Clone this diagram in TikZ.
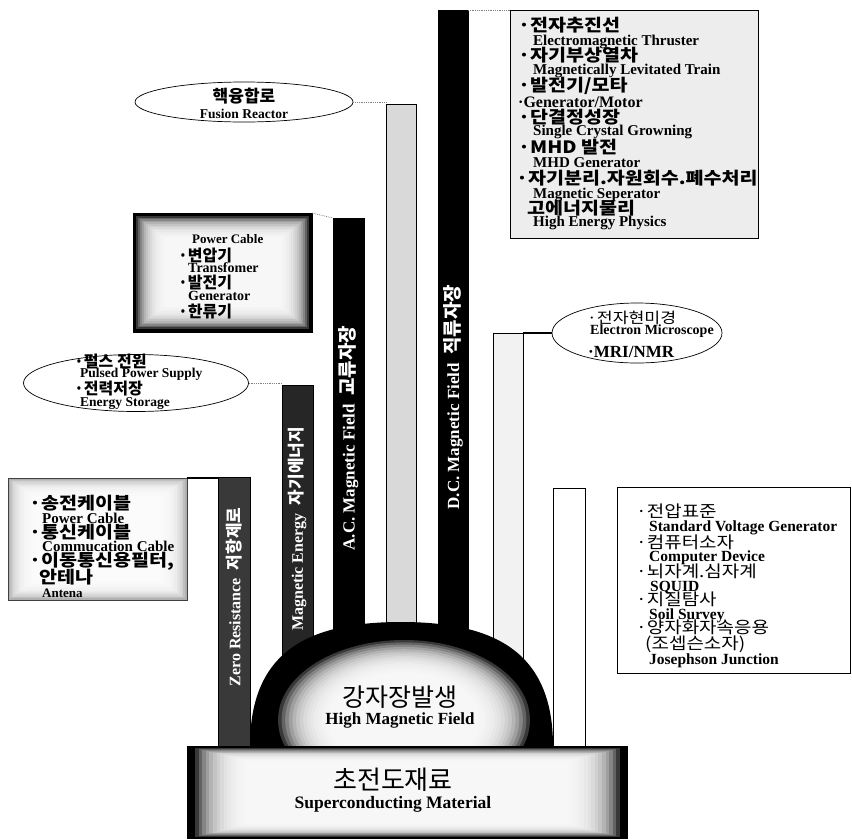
\documentclass[tikz,border=0pt]{standalone}
\usepackage{fontspec}
\usepackage{graphicx}
\setmainfont{Liberation Serif}
\newfontfamily\kr{Noto Sans CJK KR}
\newfontfamily\krw{Noto Sans CJK KR}[FakeStretch=1.15]
\usetikzlibrary{shapes.geometric}
% glow box: x1 y1 x2 y2 offx offy stepx stepy basecolor
\newcommand\glowbox[9]{%
  \fill[#9] (#1,#2) rectangle (#3,#4);
  \foreach \i in {0,...,14}{%
    \fill[white,opacity=0.22] ({#1+#5+\i*#7},{#2+#6+\i*#8}) rectangle ({#3-#5-\i*#7},{#4-#6-\i*#8});}%
}
\tikzset{
  kt/.style={anchor=west,inner sep=0pt,font=\krw\bfseries\fontsize{#1}{#1}\selectfont},
  kt/.default=17,
  kb/.style={anchor=west,inner sep=0pt,font=\kr\bfseries\fontsize{#1}{#1}\selectfont},
  kb/.default=16,
  kn/.style={anchor=west,inner sep=0pt,font=\krw\fontsize{#1}{#1}\selectfont},
  kn/.default=16.5,
  kc/.style={anchor=center,inner sep=0pt,font=\kr\fontsize{#1}{#1}\selectfont},
  et/.style={anchor=west,inner sep=0pt,font=\bfseries\fontsize{#1}{#1}\selectfont},
  et/.default=15,
  bar/.style={anchor=north west,inner sep=0pt,outer sep=0pt,draw=black,line width=0.5pt},
  rot/.style={rotate=90,inner sep=0pt,text=white},
  dotc/.style={gray,densely dotted,line width=0.8pt},
  thickc/.style={black,line width=2pt},
  oval/.style={ellipse,draw=black,line width=0.7pt,fill=white,inner sep=0pt}
}
\begin{document}
\begin{tikzpicture}[x=1pt,y=-1pt]
\useasboundingbox (0,0) rectangle (852,839);

% ---------- bars ----------
\node[bar,fill=gray!45!black,minimum width=32pt,minimum height=270pt] (bz) at (218,477) {};
\node[bar,fill=black!85,minimum width=31pt,minimum height=361pt] (bm) at (282,385) {};
\node[bar,fill=black,minimum width=31pt,minimum height=528pt] (bac) at (333,218) {};
\node[bar,fill=gray!30,minimum width=30pt,minimum height=642pt] (bg) at (386,104) {};
\node[bar,fill=black,minimum width=30pt,minimum height=736pt] (bdc) at (438,10) {};
\node[bar,fill=gray!10,minimum width=30pt,minimum height=413pt] (bl) at (493,333) {};
\node[bar,fill=white,minimum width=32pt,minimum height=259pt] (bw) at (553,488) {};

% ---------- dome ----------
\fill[black] (250,746) .. controls (250,650) and (310,622) .. (401,622)
  .. controls (492,622) and (553,650) .. (553,746) -- cycle;
\foreach \i in {0,...,14}{%
  \fill[white,opacity=0.22] (404,720) ellipse ({126-\i*3.6} and {80-\i*2.3});}
\node[kc=25] (domek) at (400,697) {강자장발생};
\node[et=17,anchor=center] (domee) at (400,720) {High Magnetic Field};

% ---------- base ----------
\glowbox{187}{746}{628}{839}{8}{2}{3.6}{0.9}{black}
\node[kc=26] (basek) at (393,780) {초전도재료};
\node[et=17.5,anchor=center] (basee) at (393,804) {Superconducting Material};

% ---------- bar labels ----------
\node[rot] (tz) at (234,597) {\bfseries\fontsize{16}{16}\selectfont Zero Resistance\ \ {\kr\fontsize{17}{17}\selectfont 저항제로}};
\node[rot] (tm) at (297.5,529) {\bfseries\fontsize{16}{16}\selectfont Magnetic Energy\ \ {\kr\fontsize{17}{17}\selectfont 자기에너지}};
\node[rot] (tac) at (348.5,438) {\bfseries\fontsize{17}{17}\selectfont A.C.\ Magnetic Field\ \ {\kr\fontsize{19}{19}\selectfont 교류자장}};
\node[rot] (tdc) at (453,397) {\bfseries\fontsize{17}{17}\selectfont D.C.\ Magnetic Field\ \ {\kr\fontsize{19}{19}\selectfont 직류자장}};

% ---------- fusion ellipse ----------
\node[oval,minimum width=218pt,minimum height=40pt] (fus) at (244,102) {};
\draw[dotc] (fus.east) -- (fus.east -| bg.west);
\node[kb=17,anchor=center] (fusk) at (244,96) {핵융합로};
\node[et=13.5,anchor=center] (fuse) at (244,114) {Fusion Reactor};

% ---------- top right box ----------
\node[bar,fill=gray!14,minimum width=248pt,minimum height=228pt] (trb) at (510,10) {};
\draw[dotc] (bdc.north east) -- (trb.north west);
\node[kt] (r1) at (518,25) {·전자추진선};
\node[et] (r2) at (533,42) {Electromagnetic Thruster};
\node[kt] (r3) at (518,55) {·자기부상열차};
\node[et] (r4) at (533,71) {Magnetically Levitated Train};
\node[kt] (r5) at (518,86) {·발전기/모타};
\node[et=16] (r6) at (518,102) {·Generator/Motor};
\node[kt] (r7) at (518,117) {·단결정성장};
\node[et] (r8) at (533,132) {Single Crystal Growning};
\node[kt] (r9) at (518,147) {·MHD 발전};
\node[et] (r10) at (533,163) {MHD Generator};
\node[kt] (r11) at (516,178) {·자기분리.자원회수.폐수처리};
\node[et] (r12) at (533,195) {Magnetic Seperator};
\node[kt] (r13) at (527,208) {고에너지물리};
\node[et] (r14) at (533,223) {High Energy Physics};

% ---------- left top box ----------
\glowbox{133}{213}{312}{332}{3}{3}{2.0}{1.6}{black}
\node[bar,draw=black,minimum width=179pt,minimum height=119pt] (ltb) at (133,213) {};
\draw[dotc] (ltb.north east) -- (bac.north west);
\node[et=13] (l1) at (192,239) {Power Cable};
\node[kb] (l2) at (178,255) {·변압기};
\node[et=14] (l3) at (188,268) {Transfomer};
\node[kb] (l4) at (178,282) {·발전기};
\node[et=14] (l5) at (188,296) {Generator};
\node[kb] (l6) at (178,311) {·한류기};

% ---------- pulsed ellipse ----------
\node[oval,minimum width=225pt,minimum height=57pt] (pul) at (136,383) {};
\draw[dotc] (pul.east) -- (pul.east -| bm.west);
\node[kb] (p1) at (74,361) {·펄스 전원};
\node[et=13.5] (p2) at (80,374) {Pulsed Power Supply};
\node[kb] (p3) at (74,389) {·전력저장};
\node[et=13.5] (p4) at (80,404) {Energy Storage};

% ---------- left bottom box ----------
\glowbox{8}{478}{187}{600}{2}{2}{1.7}{1.2}{gray!62}
\node[bar,draw=gray!50!black,minimum width=179pt,minimum height=122pt] (lbb) at (8,478) {};
\draw[thickc] (lbb.north east) -- (lbb.north east -| bz.west);
\node[kt] (b1) at (29,503) {·송전케이블};
\node[et] (b2) at (42,518) {Power Cable};
\node[kt] (b3) at (29,532) {·통신케이블};
\node[et] (b4) at (42,546) {Commucation Cable};
\node[kt] (b5) at (29,561) {·이동통신용필터,};
\node[kt] (b6) at (39,577) {안테나};
\node[et=13] (b7) at (42,593) {Antena};

% ---------- electron ellipse ----------
\node[oval,minimum width=170pt,minimum height=60pt] (ele) at (637,333) {};
\draw[thickc] (bl.north east) -- (ele.west);
\node[kn=15] (e1) at (587,318) {·전자현미경};
\node[et=14] (e2) at (590,331) {Electron Microscope};
\node[et=17] (e3) at (588,352) {·MRI/NMR};

% ---------- right bottom box ----------
\node[bar,fill=white,minimum width=233pt,minimum height=186pt] (rbb) at (617,487) {};
\node[kn] (s1) at (636,511) {·전압표준};
\node[et=15.5] (s2) at (649,528) {Standard Voltage Generator};
\node[kn] (s3) at (636,542) {·컴퓨터소자};
\node[et=15.5] (s4) at (649,558) {Computer Device};
\node[kn] (s5) at (636,571) {·뇌자계.심자계};
\node[et=15.5] (s6) at (650,588) {SQUID};
\node[kn] (s7) at (636,599) {·지질탐사};
\node[et=15.5] (s8) at (649,616) {Soil Survey};
\node[kn] (s9) at (636,627) {·양자화자속응용};
\node[kn] (s10) at (645,644) {(조셉슨소자)};
\node[et=15.5] (s11) at (649,661) {Josephson Junction};
\end{tikzpicture}
\end{document}
